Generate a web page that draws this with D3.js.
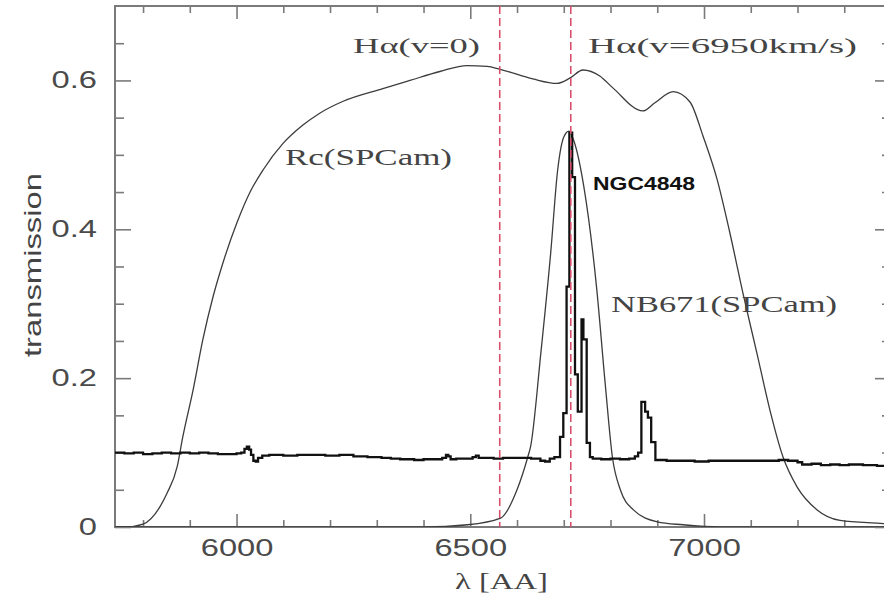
<!DOCTYPE html>
<html>
<head>
<meta charset="utf-8">
<script src="https://cdn.jsdelivr.net/npm/d3@7"></script>
<style>
  body { margin: 0; background: #fff; }
  svg { display: block; }
</style>
</head>
<body>
<svg width="884" height="595"></svg>
<script>

// broad band filter Rc(SPCam): wavelength [AA] / transmission
var rcLambda = [5740, 5761, 5800, 5836, 5851, 5873, 5885, 5907, 5928, 5950, 5971, 6001, 6029, 6057, 6099, 6142, 6178,
    6228, 6313, 6371, 6435, 6493, 6536, 6564, 6634, 6685, 6713, 6741, 6777, 6805, 6869, 6895, 6934, 6970,
    6998, 7028, 7055, 7083, 7113, 7141, 7169, 7199, 7242, 7291, 7376, 7400];
var rcTrans = [0.0, 0.0, 0.004, 0.027, 0.045, 0.081, 0.121, 0.184, 0.252, 0.310, 0.355, 0.409, 0.450, 0.480, 0.515, 0.540, 0.556,
    0.572, 0.589, 0.600, 0.612, 0.620, 0.619, 0.615, 0.602, 0.596, 0.603, 0.614, 0.606, 0.590, 0.559, 0.570, 0.585, 0.571,
    0.525, 0.467, 0.396, 0.315, 0.234, 0.157, 0.094, 0.054, 0.023, 0.009, 0.005, 0.004];

// narrow band filter NB671(SPCam)
var nbLambda = [5740, 6400, 6494, 6565, 6600, 6623, 6629, 6651, 6672, 6687, 6700, 6711, 6721, 6743, 6770, 6789,
    6804, 6821, 6849, 6900, 6955, 7034, 7400];
var nbTrans = [0.0, 0.0, 0.003, 0.012, 0.05, 0.094, 0.108, 0.234, 0.368, 0.480, 0.524, 0.532, 0.520, 0.457, 0.323, 0.190,
    0.094, 0.050, 0.023, 0.007, 0.003, 0.0, 0.0];

// NGC4848 spectrum (histogram steps)
var specLambda = [5740, 5760, 5780, 5800, 5820, 5840, 5860, 5880, 5900, 5920, 5940, 5960, 5980, 6000, 6010, 6017, 6022,
    6027, 6031, 6036, 6041, 6046, 6055, 6070, 6100, 6130, 6160, 6190, 6220, 6250, 6280, 6310, 6330, 6350, 6380,
    6400, 6420, 6440, 6448, 6453, 6458, 6470, 6490, 6505, 6512, 6518, 6530, 6550, 6570, 6590, 6610, 6630, 6650,
    6660, 6670, 6680, 6692, 6699, 6706, 6712, 6718, 6724, 6730, 6738, 6742, 6749, 6756, 6762, 6780, 6800, 6820,
    6840, 6852, 6859, 6866, 6874, 6880, 6887, 6896, 6920, 6950, 6980, 7010, 7040, 7070, 7100, 7130, 7160, 7180,
    7200, 7210, 7230, 7250, 7270, 7290, 7310, 7340, 7370, 7400];
var specFlux = [0.100, 0.099, 0.100, 0.098, 0.099, 0.100, 0.099, 0.100, 0.099, 0.100, 0.099, 0.098, 0.098, 0.099, 0.100, 0.105, 0.108,
    0.104, 0.097, 0.089, 0.088, 0.093, 0.096, 0.097, 0.096, 0.097, 0.097, 0.096, 0.097, 0.095, 0.094, 0.093, 0.092, 0.091, 0.090,
    0.091, 0.091, 0.093, 0.097, 0.095, 0.091, 0.092, 0.092, 0.094, 0.096, 0.093, 0.093, 0.092, 0.093, 0.093, 0.093, 0.092, 0.089,
    0.088, 0.092, 0.094, 0.121, 0.153, 0.323, 0.530, 0.470, 0.205, 0.155, 0.279, 0.252, 0.113, 0.094, 0.092, 0.091, 0.092, 0.091,
    0.092, 0.095, 0.100, 0.168, 0.155, 0.147, 0.114, 0.090, 0.089, 0.089, 0.088, 0.089, 0.089, 0.089, 0.089, 0.089, 0.090, 0.089,
    0.087, 0.084, 0.085, 0.083, 0.084, 0.083, 0.084, 0.083, 0.082, 0.082];

// H-alpha at rest and redshifted to 6950 km/s
var lineLambda = [6563, 6715];

var xMajor = [6000, 6500, 7000];
var yMajor = [0, 0.2, 0.4, 0.6];

var svg = d3.select("svg"),
    margin = {top: 6, right: -7, bottom: 68, left: 115},
    width = 884 - margin.left - margin.right,
    height = 595 - margin.top - margin.bottom,
    g = svg.append("g").attr("transform", "translate(" + margin.left + "," + margin.top + ")");

var x = d3.scaleLinear().domain([5740, 7400]).range([0, width]);
var y = d3.scaleLinear().domain([0, 0.7]).range([height, 0]);

var xMinor = d3.range(5800, 7401, 100).filter(function(v) { return v % 500 !== 0; });
var yMinor = d3.range(1, 14).map(function(i) { return i * 0.05; })
    .filter(function(v) { return Math.round(v * 100) % 20 !== 0; });

var frameColor = "#7a7a7a";

function stretch(sel, f) {
  sel.each(function() {
    var w = this.getComputedTextLength();
    d3.select(this).attr("textLength", w * f).attr("lengthAdjust", "spacingAndGlyphs");
  });
}

g.append("clipPath").attr("id", "plot")
  .append("rect").attr("width", width).attr("height", height);

// axes: ticks on all four sides, pointing inward
function styleAxis(a) {
  a.select(".domain").remove();
  a.selectAll("line").attr("stroke", frameColor).attr("stroke-width", 1.6);
  a.selectAll("text")
      .attr("fill", "#4a4a4a")
      .attr("font-family", "'Liberation Sans', Arial, sans-serif")
      .attr("font-size", 23);
}

var bottom = g.append("g").attr("transform", "translate(0," + height + ")")
    .call(d3.axisBottom(x).tickValues(xMajor).tickSizeInner(-13).tickSizeOuter(0).tickPadding(13).tickFormat(d3.format("d")));
bottom.call(styleAxis);
stretch(bottom.selectAll("text"), 1.42);
g.append("g").attr("transform", "translate(0," + height + ")")
    .call(d3.axisBottom(x).tickValues(xMinor).tickSizeInner(-7).tickSizeOuter(0).tickFormat(""))
    .call(styleAxis);
g.append("g")
    .call(d3.axisTop(x).tickValues(xMajor).tickSizeInner(-13).tickSizeOuter(0).tickFormat(""))
    .call(styleAxis);
g.append("g")
    .call(d3.axisTop(x).tickValues(xMinor).tickSizeInner(-7).tickSizeOuter(0).tickFormat(""))
    .call(styleAxis);

var left = g.append("g")
    .call(d3.axisLeft(y).tickValues(yMajor).tickSizeInner(-16).tickSizeOuter(0).tickPadding(18)
      .tickFormat(function(d) { return d === 0 ? "0" : d3.format(".1f")(d); }));
left.call(styleAxis);
stretch(left.selectAll("text"), 1.42);
g.append("g")
    .call(d3.axisLeft(y).tickValues(yMinor).tickSizeInner(-9).tickSizeOuter(0).tickFormat(""))
    .call(styleAxis);
g.append("g").attr("transform", "translate(" + width + ",0)")
    .call(d3.axisRight(y).tickValues(yMajor).tickSizeInner(-16).tickSizeOuter(0).tickFormat(""))
    .call(styleAxis);
g.append("g").attr("transform", "translate(" + width + ",0)")
    .call(d3.axisRight(y).tickValues(yMinor).tickSizeInner(-9).tickSizeOuter(0).tickFormat(""))
    .call(styleAxis);

g.append("rect")
    .attr("width", width)
    .attr("height", height)
    .attr("fill", "none")
    .attr("stroke", frameColor)
    .attr("stroke-width", 2);

var plot = g.append("g").attr("clip-path", "url(#plot)");

var filterLine = d3.line()
    .x(function(d) { return x(d[0]); })
    .y(function(d) { return y(d[1]); })
    .curve(d3.curveMonotoneX);

plot.append("path")
    .datum(d3.zip(rcLambda, rcTrans))
    .attr("d", filterLine)
    .attr("fill", "none")
    .attr("stroke", "#3c3c3c")
    .attr("stroke-width", 1.3);

plot.append("path")
    .datum(d3.zip(nbLambda, nbTrans))
    .attr("d", filterLine)
    .attr("fill", "none")
    .attr("stroke", "#3c3c3c")
    .attr("stroke-width", 1.3);

plot.append("path")
    .datum(d3.zip(specLambda, specFlux))
    .attr("d", d3.line()
      .x(function(d) { return x(d[0]); })
      .y(function(d) { return y(d[1]); })
      .curve(d3.curveStepAfter))
    .attr("fill", "none")
    .attr("stroke", "#111")
    .attr("stroke-width", 2.3);

plot.selectAll(".hline")
    .data(lineLambda)
    .enter().append("line")
      .attr("class", "hline")
      .attr("x1", function(d) { return x(d); })
      .attr("x2", function(d) { return x(d); })
      .attr("y1", 0)
      .attr("y2", height)
      .attr("stroke", "#d9506e")
      .attr("stroke-width", 1.6)
      .attr("stroke-dasharray", "8,4");

// labels
var serif = "'Liberation Serif', 'Times New Roman', serif";
function label(txt, px, py, w, size, family, anchor, color, weight) {
  return svg.append("text")
      .attr("x", px)
      .attr("y", py)
      .attr("text-anchor", anchor)
      .attr("font-family", family)
      .attr("font-size", size)
      .attr("font-weight", weight || "normal")
      .attr("fill", color)
      .attr("textLength", w)
      .attr("lengthAdjust", "spacingAndGlyphs")
      .text(txt);
}

label("H\u03b1(v=0)", 353, 53, 127, 22, serif, "start", "#444");
label("H\u03b1(v=6950km/s)", 588, 53, 269, 22, serif, "start", "#444");
label("Rc(SPCam)", 285, 165, 167, 23, serif, "start", "#444");
label("NB671(SPCam)", 611, 312, 226, 23, serif, "start", "#444");
label("NGC4848", 593, 190, 102, 18, "'Liberation Sans', Arial, sans-serif", "start", "#111", "bold");
label("\u03bb [AA]", 455, 589, 93, 24, serif, "start", "#444");

svg.append("text")
    .attr("transform", "translate(41,265) rotate(-90)")
    .attr("text-anchor", "middle")
    .attr("font-family", "'Liberation Sans', Arial, sans-serif")
    .attr("font-size", 24)
    .attr("fill", "#444")
    .attr("textLength", 184)
    .attr("lengthAdjust", "spacingAndGlyphs")
    .text("transmission");

</script>
</body>
</html>
